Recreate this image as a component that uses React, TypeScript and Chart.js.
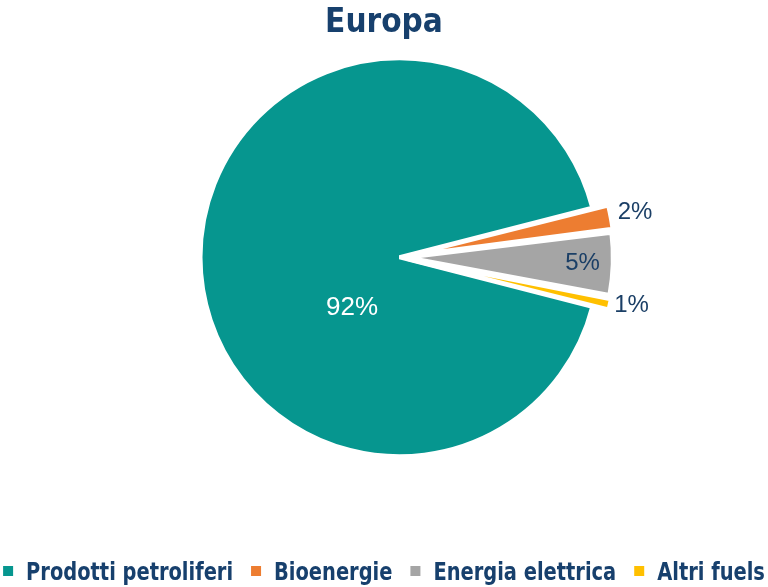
import React, { useEffect, useRef } from 'react';
import { Chart, registerables, layouts } from 'chart.js';

Chart.register(...registerables);

const titleText = 'Europa';
const categories = ['Prodotti petroliferi', 'Bioenergie', 'Energia elettrica', 'Altri fuels'];
const values = [92, 2, 5, 1];
const sliceColors = ['#06968F', '#ED7D31', '#A5A5A5', '#FFC000'];
const sliceOffsets = [0, 34, 34, 34];
const valueLabels = ['92%', '2%', '5%', '1%'];
const labelRadius = [0.35, 1.205, 0.92, 1.19];
const labelAngleShift = [-47, 0, 0, -1];
const labelColors = ['#FFFFFF', '#1B3F66', '#1B3F66', '#1B3F66'];
const labelSizes = [26, 24, 24, 24];

const NAVY = '#17406D';
const LEGEND_FONT = "'DejaVu Sans Condensed', 'DejaVu Sans', sans-serif";

const leftSpacer = {
  id: 'leftSpacer',
  beforeInit(chart: any) {
    const box: any = {
      position: 'left',
      weight: -10,
      fullSize: false,
      options: {},
      width: 0,
      height: 0,
      left: 0,
      top: 0,
      right: 0,
      bottom: 0,
      isHorizontal() {
        return false;
      },
      update(maxWidth: number, maxHeight: number) {
        this.width = 31;
        this.height = maxHeight;
      },
      draw() {},
    };
    layouts.addBox(chart, box);
  },
};

const valueLabelPlugin = {
  id: 'valueLabels',
  afterDatasetsDraw(chart: any) {
    const ctx = chart.ctx;
    const meta = chart.getDatasetMeta(0);
    meta.data.forEach((arc: any, i: number) => {
      const p = arc.getProps(['x', 'y', 'startAngle', 'endAngle', 'outerRadius'], true);
      const mid = (p.startAngle + p.endAngle) / 2 + (labelAngleShift[i] * Math.PI) / 180;
      const r = p.outerRadius * labelRadius[i];
      const tx = p.x + Math.cos(mid) * r;
      const ty = p.y + Math.sin(mid) * r;
      ctx.save();
      ctx.font = `${labelSizes[i]}px 'Liberation Sans', Arial, sans-serif`;
      ctx.fillStyle = labelColors[i];
      ctx.textAlign = 'center';
      ctx.textBaseline = 'middle';
      ctx.fillText(valueLabels[i], tx, ty);
      ctx.restore();
    });
  },
};

const customLegend = {
  id: 'customLegend',
  afterDraw(chart: any) {
    const ctx = chart.ctx;
    const fontSize = 24;
    const sx = 0.9;
    const box = 10;
    const boxGap = 13;
    const itemGap = 18;
    ctx.save();
    ctx.font = `bold ${fontSize}px ${LEGEND_FONT}`;
    const widths = categories.map((c) => ctx.measureText(c).width * sx);
    const total =
      widths.reduce((a, b) => a + b, 0) +
      categories.length * (box + boxGap) +
      (categories.length - 1) * itemGap;
    let x = chart.width / 2 - total / 2;
    const cy = chart.height - 16;
    categories.forEach((c, i) => {
      ctx.fillStyle = sliceColors[i];
      ctx.fillRect(x, cy - box / 2, box, box);
      x += box + boxGap;
      ctx.save();
      ctx.translate(x, cy);
      ctx.scale(sx, 1);
      ctx.fillStyle = NAVY;
      ctx.textAlign = 'left';
      ctx.textBaseline = 'alphabetic';
      ctx.fillText(c, 0, 9);
      ctx.restore();
      x += widths[i] + itemGap;
    });
    ctx.restore();
  },
};

export default function App() {
  const ref = useRef<HTMLCanvasElement | null>(null);

  useEffect(() => {
    document.body.style.margin = '0';
    if (!ref.current) return;
    const chart = new Chart(ref.current, {
      type: 'pie',
      data: {
        labels: categories,
        datasets: [
          {
            data: values,
            backgroundColor: sliceColors,
            borderColor: '#FFFFFF',
            borderWidth: 4,
            offset: sliceOffsets,
          },
        ],
      },
      options: {
        animation: false,
        responsive: true,
        maintainAspectRatio: false,
        radius: 199,
        rotation: 104.4,
        layout: { padding: { top: 0, left: 0, right: 0, bottom: 116 } },
        plugins: {
          title: {
            display: true,
            text: titleText,
            color: NAVY,
            font: { size: 33, weight: 'bold', family: LEGEND_FONT },
            padding: { top: 4, bottom: 0 },
          },
          legend: { display: false },
          tooltip: { enabled: false },
        },
      },
      plugins: [leftSpacer, valueLabelPlugin, customLegend],
    });
    return () => chart.destroy();
  }, []);

  return (
    <div style={{ position: 'absolute', left: 0, top: 0, width: 768, height: 587 }}>
      <canvas ref={ref} />
    </div>
  );
}
